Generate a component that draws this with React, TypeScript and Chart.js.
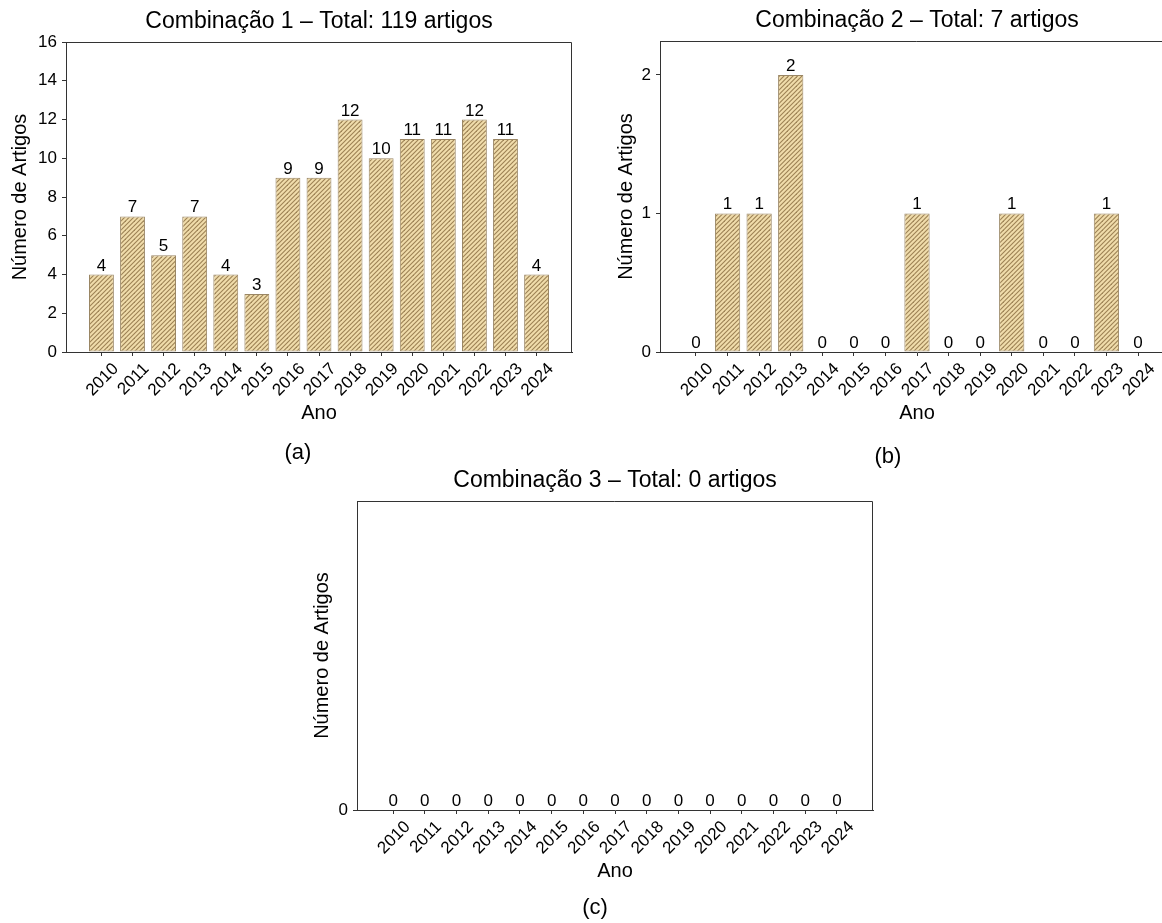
import React, { useEffect, useRef } from 'react';
import { Chart, registerables } from 'chart.js';

Chart.register(...registerables);

// ---- data ----
const years = [2010, 2011, 2012, 2013, 2014, 2015, 2016, 2017, 2018, 2019, 2020, 2021, 2022, 2023, 2024];
const combo1 = [4, 7, 5, 7, 4, 3, 9, 9, 12, 10, 11, 11, 12, 11, 4];
const combo2 = [0, 1, 1, 2, 0, 0, 0, 1, 0, 0, 1, 0, 0, 1, 0];
const combo3 = [0, 0, 0, 0, 0, 0, 0, 0, 0, 0, 0, 0, 0, 0, 0];
const yTicks1 = [0, 2, 4, 6, 8, 10, 12, 14, 16];
const yTicks2 = [0, 1, 2];
const yTicks3 = [0];
const yMax1 = 16;
const yMax2 = 2.245;
const yMax3 = 1;
const title1 = 'Combinação 1 – Total: 119 artigos';
const title2 = 'Combinação 2 – Total: 7 artigos';
const title3 = 'Combinação 3 – Total: 0 artigos';
const xAxisLabel = 'Ano';
const yAxisLabel = 'Número de Artigos';
const captions = ['(a)', '(b)', '(c)'];

// ---- style ----
const FONT = '"Liberation Sans", Arial, Helvetica, sans-serif';
const AXIS = '#333333';
const EDGE = '#9a8664';
const FILL_BG = '#f0dcab';
const HATCH = '#9c8154';
const X_MARGIN = 1.14;
const TICK_SIZE = 17;

function makeHatch(): CanvasPattern | string {
  const c = document.createElement('canvas');
  const s = 9;
  c.width = s;
  c.height = s;
  const ctx = c.getContext('2d');
  if (!ctx) return FILL_BG;
  ctx.fillStyle = FILL_BG;
  ctx.fillRect(0, 0, s, s);
  ctx.strokeStyle = HATCH;
  ctx.lineWidth = 1.1;
  for (const k of [0, 4.5, 9, 13.5, 18]) {
    ctx.beginPath();
    ctx.moveTo(-2, k + 2);
    ctx.lineTo(k + 2, -2);
    ctx.stroke();
  }
  const p = ctx.createPattern(c, 'repeat');
  return p || FILL_BG;
}

const panelPlugin = {
  id: 'panelDeco',
  afterDatasetsDraw(chart: any, _args: any, opts: any) {
    const { ctx, chartArea: a } = chart;
    ctx.save();
    // top and right spines
    ctx.strokeStyle = AXIS;
    ctx.lineWidth = 1;
    ctx.beginPath();
    const top = Math.round(a.top) + 0.5;
    const right = Math.round(a.right) - 0.5;
    ctx.moveTo(a.left, top);
    ctx.lineTo(right, top);
    ctx.moveTo(right, top);
    ctx.lineTo(right, a.bottom);
    ctx.stroke();
    // value labels
    ctx.fillStyle = '#000';
    ctx.font = `${TICK_SIZE}px ${FONT}`;
    ctx.textAlign = 'center';
    ctx.textBaseline = 'alphabetic';
    const meta = chart.getDatasetMeta(0);
    const ds = chart.data.datasets[0].data;
    meta.data.forEach((el: any, i: number) => {
      ctx.fillText(String(ds[i].y), el.x, el.y - 4);
    });
    // rotated x tick labels, centred on ticks
    const xs = chart.scales.x;
    const h = TICK_SIZE * 0.72;
    years.forEach((yr) => {
      const txt = String(yr);
      const px = xs.getPixelForValue(yr);
      const w = ctx.measureText(txt).width;
      const ext = (w + h) * Math.SQRT1_2;
      const cy = a.bottom + 9 + ext / 2;
      ctx.save();
      ctx.translate(px, cy);
      ctx.rotate(-Math.PI / 4);
      ctx.fillText(txt, 0, h / 2);
      ctx.restore();
    });
    // x axis title
    ctx.font = `20px ${FONT}`;
    ctx.textBaseline = 'middle';
    ctx.fillText(xAxisLabel, (a.left + a.right) / 2, a.bottom + opts.xTitleOffset);
    // title
    ctx.font = `23px ${FONT}`;
    ctx.textBaseline = 'alphabetic';
    ctx.fillText(opts.title || '', (a.left + a.right) / 2, a.top - 14);
    ctx.restore();
  },
};

type PanelProps = {
  left: number;
  top: number;
  width: number;
  height: number;
  plotLeft: number;
  plotRight: number;
  plotTop: number;
  plotBottom: number;
  yTitleX: number;
  values: number[];
  yTicks: number[];
  yMax: number;
  title: string;
};

function Panel(p: PanelProps) {
  const ref = useRef<HTMLCanvasElement | null>(null);
  useEffect(() => {
    if (!ref.current) return;
    const tickFont = { family: FONT, size: TICK_SIZE };
    const axisTitleFont = { family: FONT, size: 20 };
    const chart = new Chart(ref.current, {
      type: 'bar',
      data: {
        datasets: [
          {
            data: years.map((y, i) => ({ x: y, y: p.values[i] })),
            backgroundColor: makeHatch() as any,
            borderColor: EDGE,
            borderWidth: 1,
            borderSkipped: false,
            barPercentage: 1,
            categoryPercentage: 0.8,
          } as any,
        ],
      },
      options: {
        animation: false,
        responsive: false,
        maintainAspectRatio: false,
        layout: { padding: { left: 0, top: p.plotTop, right: p.width - p.plotRight, bottom: 0 } },
        plugins: {
          legend: { display: false },
          tooltip: { enabled: false },
          title: { display: false },
          panelDeco: { title: p.title, xTitleOffset: 61 },
        } as any,
        scales: {
          x: {
            type: 'linear',
            min: years[0] - X_MARGIN,
            max: years[years.length - 1] + X_MARGIN,
            offset: false,
            afterBuildTicks: (s: any) => {
              s.ticks = years.map((v) => ({ value: v }));
            },
            afterFit: (s: any) => {
              s.height = p.height - p.plotBottom;
            },
            grid: {
              display: true,
              offset: false,
              drawOnChartArea: false,
              drawTicks: true,
              tickLength: 4,
              color: AXIS,
            },
            border: { display: true, color: AXIS, width: 1 },
            ticks: { display: false, autoSkip: false },
            title: { display: false },
          } as any,
          y: {
            min: 0,
            max: p.yMax,
            afterBuildTicks: (s: any) => {
              s.ticks = p.yTicks.map((v) => ({ value: v }));
            },
            afterFit: (s: any) => {
              s.width = p.plotLeft;
            },
            grid: { display: true, drawOnChartArea: false, drawTicks: true, tickLength: 4, color: AXIS },
            border: { display: true, color: AXIS, width: 1 },
            ticks: { padding: 5, color: '#000', font: tickFont, callback: (v: any) => String(v) },
            title: {
              display: true,
              text: yAxisLabel,
              color: '#000',
              font: axisTitleFont,
              padding: { top: p.yTitleX - 12, bottom: 0 },
            },
          } as any,
        },
      },
      plugins: [panelPlugin as any],
    });
    return () => chart.destroy();
  }, []);
  return (
    <canvas
      ref={ref}
      width={p.width}
      height={p.height}
      style={{ position: 'absolute', left: p.left, top: p.top, width: p.width, height: p.height }}
    />
  );
}

const captionStyle = (cx: number, cy: number): React.CSSProperties => ({
  position: 'absolute',
  left: cx - 30,
  top: cy - 14,
  width: 60,
  height: 28,
  lineHeight: '28px',
  textAlign: 'center',
  fontFamily: FONT,
  fontSize: 22,
  color: '#000',
});

export default function App() {
  return (
    <div
      style={{
        position: 'fixed',
        left: 0,
        top: 0,
        width: 1162,
        height: 923,
        overflow: 'hidden',
        background: '#fff',
      }}
    >
      <Panel
        left={0}
        top={0}
        width={590}
        height={440}
        plotLeft={66}
        plotRight={572}
        plotTop={42}
        plotBottom={352}
        yTitleX={20}
        values={combo1}
        yTicks={yTicks1}
        yMax={yMax1}
        title={title1}
      />
      <Panel
        left={590}
        top={0}
        width={600}
        height={440}
        plotLeft={70}
        plotRight={584}
        plotTop={41}
        plotBottom={352}
        yTitleX={36}
        values={combo2}
        yTicks={yTicks2}
        yMax={yMax2}
        title={title2}
      />
      <Panel
        left={290}
        top={460}
        width={600}
        height={440}
        plotLeft={67}
        plotRight={583}
        plotTop={41}
        plotBottom={350}
        yTitleX={32}
        values={combo3}
        yTicks={yTicks3}
        yMax={yMax3}
        title={title3}
      />
      <div style={captionStyle(298, 452)}>{captions[0]}</div>
      <div style={captionStyle(888, 456)}>{captions[1]}</div>
      <div style={captionStyle(595, 907)}>{captions[2]}</div>
    </div>
  );
}
